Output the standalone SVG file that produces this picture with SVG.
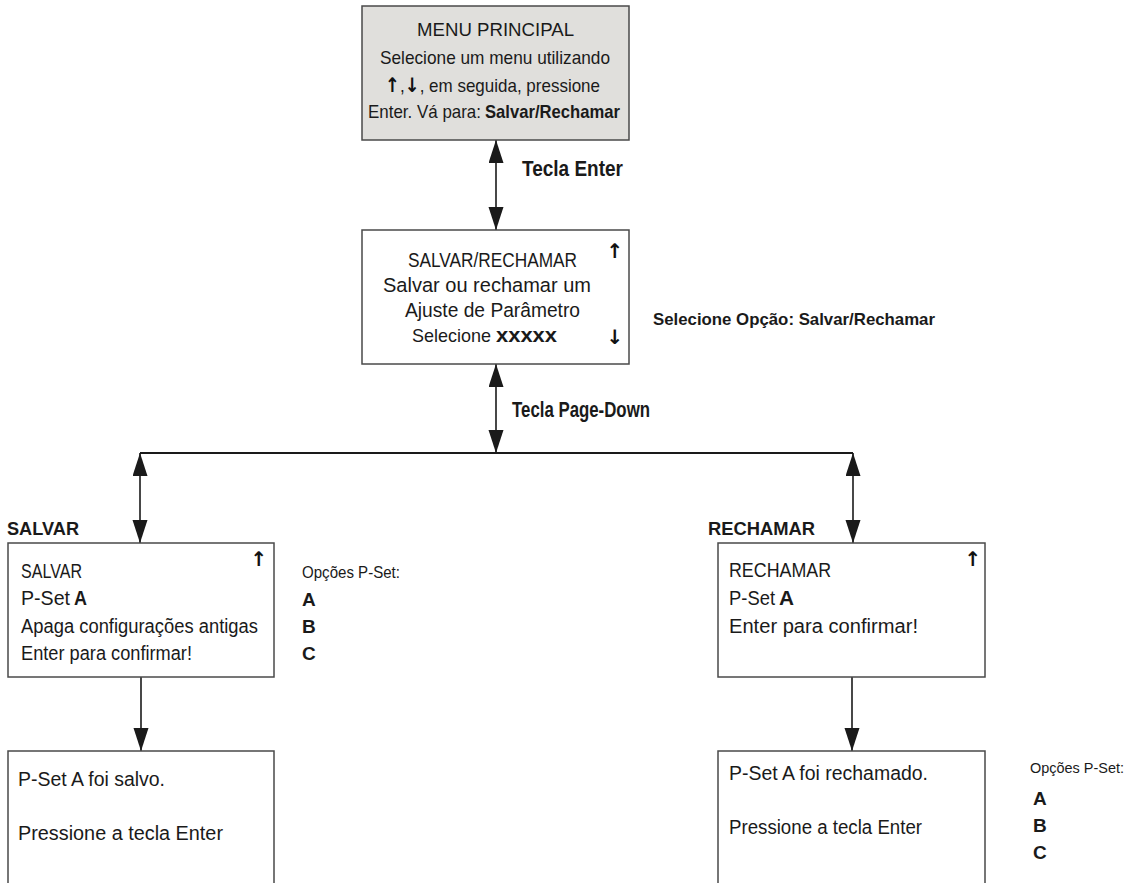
<svg xmlns="http://www.w3.org/2000/svg" width="1131" height="883" viewBox="0 0 1131 883">
  <style>
    .box { fill: #ffffff; stroke: #4a4a4a; stroke-width: 1.5; }
    .box-main { fill: #e0dfdc; stroke: #4a4a4a; stroke-width: 1.5; }
    .t { font-family: "Liberation Sans", Arial, sans-serif; fill: #1a1a1a; }
    .b { font-weight: bold; }
    .arr { font-family: "DejaVu Sans", sans-serif; font-weight: bold; fill: #111111; }
    .wire { stroke: #1a1a1a; stroke-width: 1.6; fill: none; }
    .bus { stroke: #1a1a1a; stroke-width: 2; fill: none; }
  </style>
  <defs>
    <marker id="head" markerUnits="userSpaceOnUse" markerWidth="24" markerHeight="16" refX="23" refY="7.5" orient="auto-start-reverse">
      <path d="M0,0 L23,7.5 L0,15 z" fill="#1a1a1a"/>
    </marker>
  </defs>

  <rect width="1131" height="883" fill="#ffffff"/>

  <!-- connectors -->
  <g id="connectors">
    <line class="wire" x1="496" y1="140" x2="496" y2="230" marker-start="url(#head)" marker-end="url(#head)"/>
    <line class="wire" x1="496" y1="364" x2="496" y2="453" marker-start="url(#head)" marker-end="url(#head)"/>
    <line class="bus" x1="140" y1="453" x2="853" y2="453"/>
    <line class="wire" x1="140" y1="453" x2="140" y2="543" marker-start="url(#head)" marker-end="url(#head)"/>
    <line class="wire" x1="853" y1="453" x2="853" y2="543" marker-start="url(#head)" marker-end="url(#head)"/>
    <line class="wire" x1="141" y1="677" x2="141" y2="751" marker-end="url(#head)"/>
    <line class="wire" x1="852" y1="677" x2="852" y2="751" marker-end="url(#head)"/>
  </g>

  <!-- connector labels -->
  <g id="labels" class="t b">
    <text x="522" y="176" font-size="22" textLength="101" lengthAdjust="spacingAndGlyphs">Tecla Enter</text>
    <text x="512" y="417" font-size="22" textLength="138" lengthAdjust="spacingAndGlyphs">Tecla Page-Down</text>
    <text x="653" y="325" font-size="17" textLength="282" lengthAdjust="spacingAndGlyphs">Selecione Opção: Salvar/Rechamar</text>
    <text x="7" y="535" font-size="19" textLength="72" lengthAdjust="spacingAndGlyphs">SALVAR</text>
    <text x="708" y="535" font-size="19" textLength="107" lengthAdjust="spacingAndGlyphs">RECHAMAR</text>
  </g>

  <!-- main menu -->
  <g id="menu-principal" class="t" font-size="19">
    <rect class="box-main" x="362" y="6" width="267" height="134"/>
    <text x="417" y="36" textLength="157" lengthAdjust="spacingAndGlyphs">MENU PRINCIPAL</text>
    <text x="380" y="64" textLength="230" lengthAdjust="spacingAndGlyphs">Selecione um menu utilizando</text>
    <text x="385" y="92" textLength="215" lengthAdjust="spacingAndGlyphs"><tspan class="arr" font-size="20">↑</tspan>,<tspan class="arr" font-size="20">↓</tspan>, em seguida, pressione</text>
    <text x="368" y="118" textLength="113" lengthAdjust="spacingAndGlyphs">Enter. Vá para:</text>
    <text class="b" x="485" y="118" textLength="135" lengthAdjust="spacingAndGlyphs">Salvar/Rechamar</text>
  </g>

  <!-- save / recall menu -->
  <g id="salvar-rechamar" class="t" font-size="20.5">
    <rect class="box" x="362" y="230" width="267" height="134"/>
    <text x="408" y="267" textLength="169" lengthAdjust="spacingAndGlyphs">SALVAR/RECHAMAR</text>
    <text x="383" y="292" textLength="208" lengthAdjust="spacingAndGlyphs">Salvar ou rechamar um</text>
    <text x="405" y="317" textLength="175" lengthAdjust="spacingAndGlyphs">Ajuste de Parâmetro</text>
    <text x="412" y="342" font-size="18.5" textLength="79" lengthAdjust="spacingAndGlyphs">Selecione</text>
    <text class="b" x="496" y="342" textLength="61" lengthAdjust="spacingAndGlyphs">xxxxx</text>
    <text class="arr" x="615" y="258" font-size="20" text-anchor="middle">↑</text>
    <text class="arr" x="615" y="344" font-size="20" text-anchor="middle">↓</text>
  </g>

  <!-- save -->
  <g id="salvar" class="t" font-size="20">
    <rect class="box" x="8" y="543" width="266" height="134"/>
    <text x="21" y="578" textLength="61" lengthAdjust="spacingAndGlyphs">SALVAR</text>
    <text x="21" y="605" textLength="49" lengthAdjust="spacingAndGlyphs">P-Set</text>
    <text class="b" x="74" y="605" textLength="13" lengthAdjust="spacingAndGlyphs">A</text>
    <text x="21" y="633" textLength="237" lengthAdjust="spacingAndGlyphs">Apaga configurações antigas</text>
    <text x="21" y="660" textLength="171" lengthAdjust="spacingAndGlyphs">Enter para confirmar!</text>
    <text class="arr" x="259" y="566" font-size="20" text-anchor="middle">↑</text>
  </g>

  <g id="salvar-opcoes" class="t" font-size="17">
    <text x="302" y="578" textLength="98" lengthAdjust="spacingAndGlyphs">Opções P-Set:</text>
    <text class="b" x="302" y="606" font-size="19">A</text>
    <text class="b" x="302" y="633" font-size="19">B</text>
    <text class="b" x="302" y="660" font-size="19">C</text>
  </g>

  <!-- recall -->
  <g id="rechamar" class="t" font-size="20">
    <rect class="box" x="718" y="543" width="267" height="134"/>
    <text x="729" y="577" textLength="102" lengthAdjust="spacingAndGlyphs">RECHAMAR</text>
    <text x="729" y="605" textLength="46" lengthAdjust="spacingAndGlyphs">P-Set</text>
    <text class="b" x="779" y="605" textLength="15" lengthAdjust="spacingAndGlyphs">A</text>
    <text x="729" y="633" textLength="189" lengthAdjust="spacingAndGlyphs">Enter para confirmar!</text>
    <text class="arr" x="973" y="566" font-size="20" text-anchor="middle">↑</text>
  </g>

  <!-- saved confirmation -->
  <g id="salvo" class="t" font-size="20">
    <path class="box" d="M8,884 V751 H274 V884"/>
    <text x="18" y="786" textLength="147" lengthAdjust="spacingAndGlyphs">P-Set A foi salvo.</text>
    <text x="18" y="840" textLength="205" lengthAdjust="spacingAndGlyphs">Pressione a tecla Enter</text>
  </g>

  <!-- recalled confirmation -->
  <g id="rechamado" class="t" font-size="20">
    <path class="box" d="M718,884 V751 H985 V884"/>
    <text x="729" y="780" textLength="199" lengthAdjust="spacingAndGlyphs">P-Set A foi rechamado.</text>
    <text x="729" y="834" textLength="193" lengthAdjust="spacingAndGlyphs">Pressione a tecla Enter</text>
  </g>

  <g id="rechamado-opcoes" class="t" font-size="15.3">
    <text x="1030" y="773" textLength="94" lengthAdjust="spacingAndGlyphs">Opções P-Set:</text>
    <text class="b" x="1033" y="805" font-size="19">A</text>
    <text class="b" x="1033" y="832" font-size="19">B</text>
    <text class="b" x="1033" y="859" font-size="19">C</text>
  </g>
</svg>
